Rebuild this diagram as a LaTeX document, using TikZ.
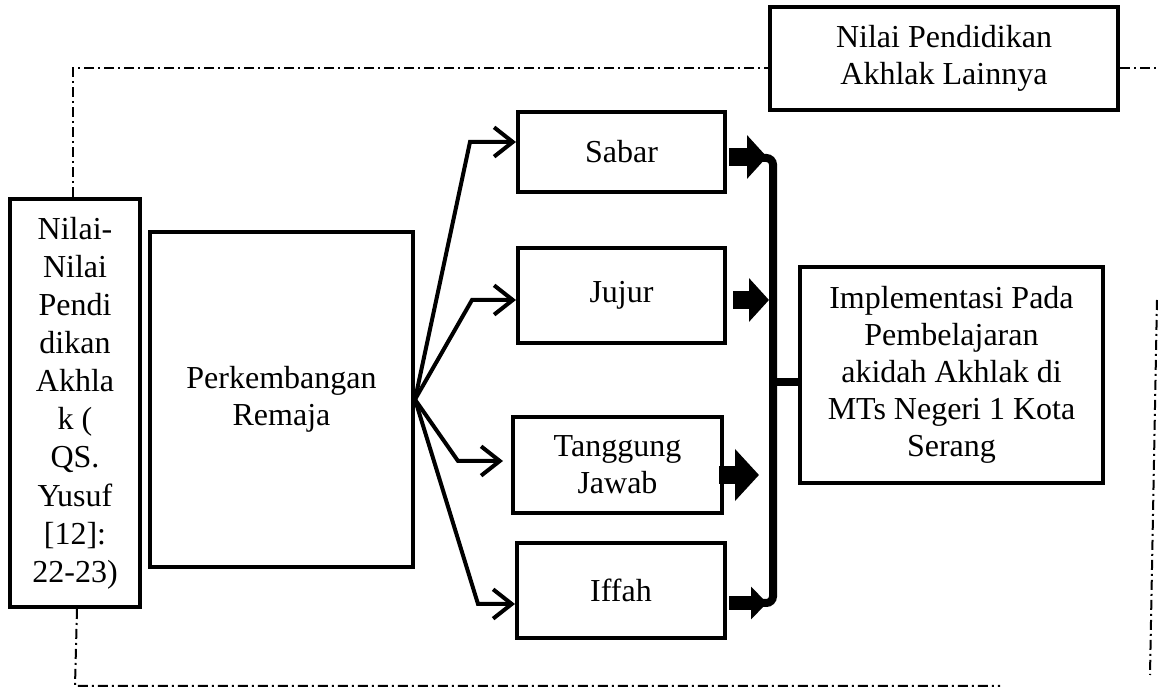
\documentclass[tikz,border=0pt]{standalone}
\usepackage{fontspec}
\setmainfont{Liberation Serif}
\usetikzlibrary{arrows.meta}

\begin{document}
\begin{tikzpicture}[
x=0.375pt, y=-0.375pt, % one unit = one pixel
font=\fontsize{12}{13.9}\selectfont,
boxx/.style={rectangle, draw=black, line width=1.5pt, align=center, inner sep=0pt},
px/.style 2 args={minimum width=#1*0.375pt, minimum height=#2*0.375pt},
fann/.style={line width=1.5pt, -{Straight Barb[length=7pt, width=11pt, line width=1.5pt]}},
blokk/.style={line width=6.5pt, -{Triangle[length=7.5pt, width=16pt]}},
barr/.style={line width=3pt, rounded corners=2.5pt},
framee/.style={line width=0.75pt, dash pattern=on 3.75pt off 1.5pt on 0.75pt off 1.5pt},
]
  \useasboundingbox (0,0) rectangle (1158,687);

  \node (nilai) [boxx, px={130}{408}, font=\fontsize{12}{14.3}\selectfont] at (75,403) {Nilai-\\Nilai\\Pendi\\dikan\\Akhla\\k (\\QS.\\Yusuf\\{[12]:}\\22-23)};
  \node (remaja) [boxx, px={263}{335}] at (281.5,399.5) {Perkembangan\\Remaja};
  \node (sabar) [boxx, px={207}{80}] at (621.5,152) {Sabar};
  \node (jujur) [boxx, px={207}{95}] at (621.5,295.5) {Jujur};
  \node (tanggung) [boxx, px={209}{96}] at (617.5,465) {Tanggung\\Jawab};
  \node (iffah) [boxx, px={208}{95}] at (621,590.5) {Iffah};
  \node (impl) [boxx, px={303}{216}] at (951.5,375) {Implementasi Pada\\Pembelajaran\\akidah Akhlak di\\MTs Negeri 1 Kota\\Serang};
  \node (lain) [boxx, px={348}{103}] at (944,58.5) {Nilai Pendidikan\\Akhlak Lainnya};

  \coordinate (c1) at (470,142);
  \coordinate (c2) at (472,300);
  \coordinate (c3) at (458,461);
  \coordinate (c4) at (478,604);
  \draw[fann] (remaja.east) -- (c1) -- (c1 -| sabar.west);
  \draw[fann] (remaja.east) -- (c2) -- (c2 -| jujur.west);
  \draw[fann] (remaja.east) -- (c3) -- ([xshift=-3pt]c3 -| tanggung.west);
  \draw[fann] (remaja.east) -- (c4) -- (c4 -| iffah.west);

  \draw[blokk] (sabar.east) ++(2,5) -- ++(38,0);
  \draw[blokk] (jujur.east) ++(6,4.5) -- ++(36,0);
  \draw[blokk, -{Triangle[length=9pt, width=19pt]}] (tanggung.east) ++(-5,10) -- ++(40,0);
  \draw[blokk, line width=5.5pt, -{Triangle[length=6pt, width=12pt]}] (iffah.east) ++(2,12.5) -- ++(38,0);

  \coordinate (bartop) at (773,158);
  \coordinate (barbot) at (773,603);
  \coordinate (barmid) at (773,382);
  \draw[barr] ([xshift=-5pt]bartop) -- (bartop) -- (barbot) -- ([xshift=-5pt]barbot);
  \draw[line width=3pt] (barmid) -- (barmid -| impl.west);

  \coordinate (ftl) at (73,68);
  \draw[framee] (nilai.north -| ftl) -- (ftl) -- (ftl -| lain.west);
  \draw[framee] (ftl -| lain.east) -- (1160,68);
  \draw[framee] (1157,300) -- (1150,675);
  \draw[framee] (nilai.south -| 77,0) -- (75,686) -- (1000,686);
\end{tikzpicture}
\end{document}
